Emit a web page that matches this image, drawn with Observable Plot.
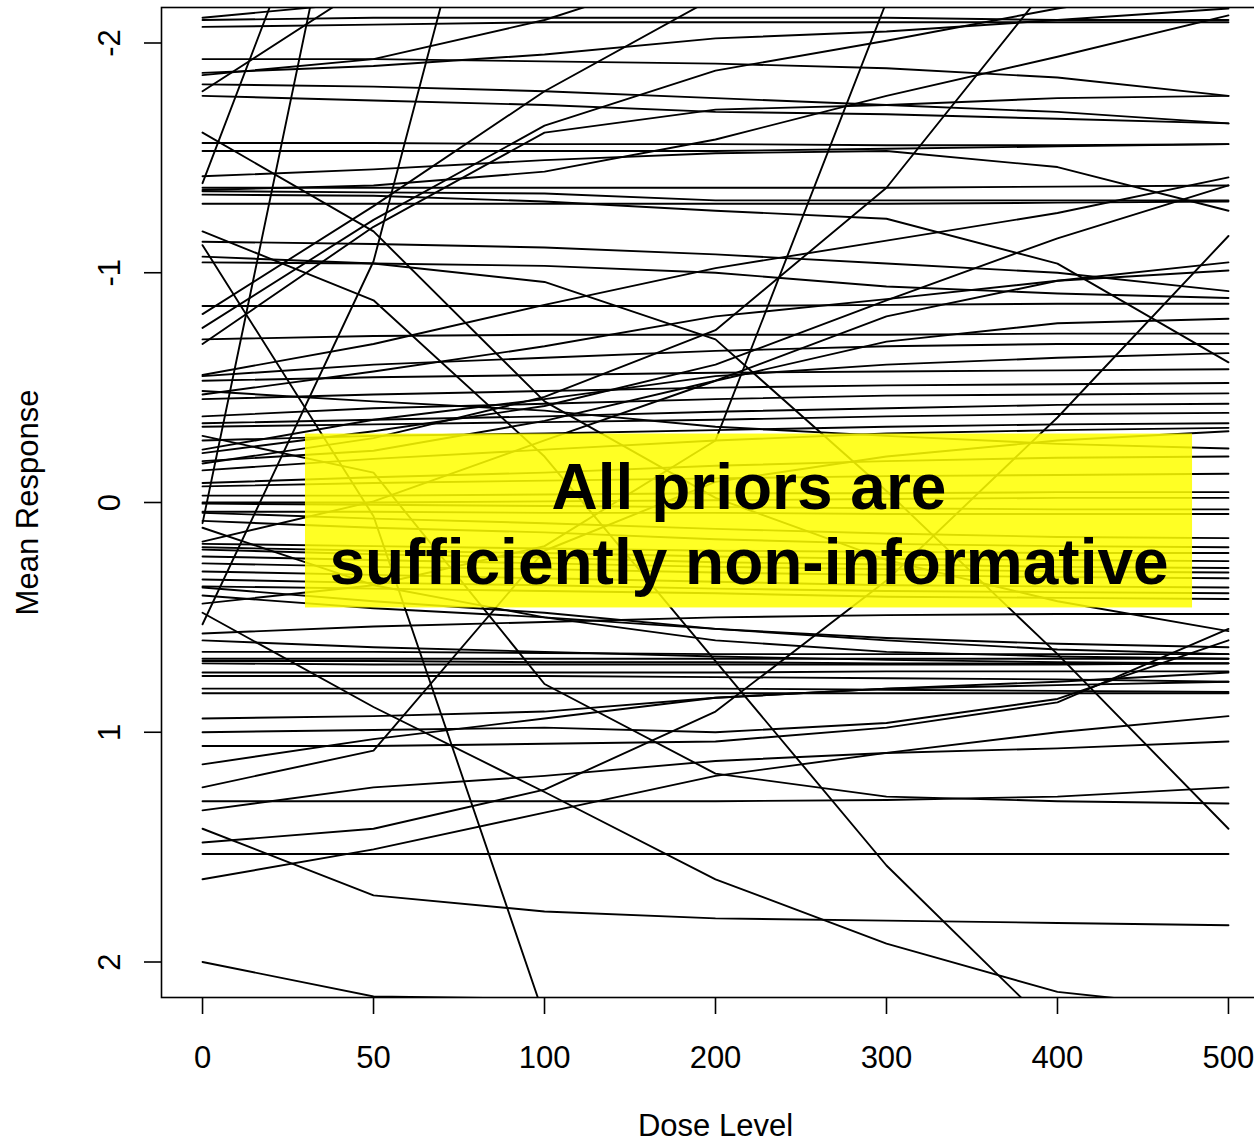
<!DOCTYPE html>
<html><head><meta charset="utf-8">
<script src="https://cdn.jsdelivr.net/npm/d3@7"></script>
<script src="https://cdn.jsdelivr.net/npm/@observablehq/plot@0.6"></script>
<style>html,body{margin:0;padding:0;background:#fff;overflow:hidden}svg{overflow:hidden}</style>
</head><body><div id="chart"></div>
<script>
const doses = [0, 50, 100, 200, 300, 400, 500];
const yTicks = [-2, -1, 0, 1, 2];

// curves that leave through the top of the panel
const topExitCurves = [
  [-2.11, -2.18, -2.23, -2.27, -2.29, -2.31, -2.31],
  [-1.86, -1.93, -2.10, -2.34, -2.40, -2.42, -2.44],
  [-1.79, -2.27, -2.44, -2.53, -2.55, -2.57, -2.57],
  [-1.87, -1.90, -1.95, -2.02, -2.05, -2.10, -2.15],
  [-0.76, -1.23, -1.64, -1.88, -2.01, -2.15, -2.27],
  [-0.82, -1.29, -1.79, -2.20, -2.36, -2.44, -2.49],
  [-1.36, -1.38, -1.44, -1.58, -1.77, -1.94, -2.12],
  [-1.39, -3.34, -3.60, -3.70, -3.75, -3.78, -3.80],
  [0.09, -3.48, -3.70, -3.80, -3.85, -3.87, -3.90],
  [0.53, -1.05, -3.87, -4.40, -4.50, -4.55, -4.60],
  [0.44, 0.36, 0.19, -0.27, -2.18, -3.49, -3.93],
  [-0.17, -0.28, -0.46, -0.75, -1.37, -2.30, -2.71]
];

// upper band
const upperCurves = [
  [-2.10, -2.11, -2.11, -2.11, -2.11, -2.10, -2.10],
  [-2.07, -2.08, -2.09, -2.09, -2.09, -2.09, -2.09],
  [-1.93, -1.93, -1.92, -1.91, -1.89, -1.85, -1.77],
  [-1.82, -1.81, -1.79, -1.76, -1.73, -1.70, -1.65],
  [-1.77, -1.75, -1.73, -1.70, -1.69, -1.67, -1.65],
  [-1.565, -1.565, -1.56, -1.56, -1.555, -1.555, -1.56],
  [-1.53, -1.53, -1.53, -1.53, -1.54, -1.55, -1.56],
  [-1.42, -1.45, -1.49, -1.52, -1.53, -1.46, -1.27],
  [-0.69, -1.20, -1.61, -1.71, -1.73, -1.76, -1.77],
  [-1.37, -1.37, -1.37, -1.37, -1.37, -1.375, -1.38],
  [-1.355, -1.35, -1.345, -1.315, -1.315, -1.315, -1.315],
  [-1.34, -1.335, -1.31, -1.27, -1.235, -1.04, -0.61],
  [-1.30, -1.30, -1.30, -1.30, -1.30, -1.305, -1.31],
  [-1.135, -1.125, -1.11, -1.08, -1.04, -1.00, -0.92],
  [-1.045, -1.04, -1.03, -1.00, -0.94, -0.91, -0.89],
  [-0.855, -0.855, -0.855, -0.855, -0.86, -0.865, -0.865],
  [-0.71, -0.725, -0.73, -0.73, -0.73, -0.735, -0.735],
  [-0.555, -0.69, -0.86, -1.02, -1.14, -1.26, -1.415],
  [-0.215, -0.31, -0.42, -0.60, -0.88, -1.15, -1.38],
  [-0.47, -0.57, -0.68, -0.81, -0.885, -0.965, -1.045],
  [-0.18, -0.225, -0.355, -0.53, -0.70, -0.78, -0.80],
  [0.17, -0.005, -0.27, -0.53, -0.81, -0.965, -1.01]
];

// curves falling steeply
const fallingCurves = [
  [-1.12, 0.06, 2.24, 2.60, 2.60, 2.60, 2.60],
  [-1.18, -0.88, -0.20, 0.69, 1.58, 2.31, 2.60],
  [-1.61, -1.18, -0.44, -0.02, 0.25, 0.43, 0.56],
  [-1.07, -1.04, -0.96, -0.71, -0.05, 0.66, 1.42],
  [-0.29, -0.13, 0.79, 1.18, 1.28, 1.30, 1.31],
  [0.48, 0.89, 1.26, 1.64, 1.92, 2.13, 2.21],
  [0.11, 0.36, 0.50, 0.60, 0.65, 0.67, 0.68],
  [2.00, 2.15, 2.16, 2.17, 2.18, 2.18, 2.19],
  [1.42, 1.71, 1.78, 1.81, 1.82, 1.83, 1.84]
];

// middle band
const middleCurves = [
  [-0.55, -0.60, -0.63, -0.66, -0.68, -0.69, -0.69],
  [-0.53, -0.545, -0.555, -0.565, -0.57, -0.575, -0.58],
  [-0.23, -0.36, -0.45, -0.55, -0.60, -0.63, -0.65],
  [-0.45, -0.47, -0.485, -0.50, -0.51, -0.515, -0.52],
  [-0.375, -0.41, -0.43, -0.45, -0.465, -0.47, -0.475],
  [-0.345, -0.36, -0.375, -0.395, -0.41, -0.425, -0.43],
  [-0.33, -0.34, -0.35, -0.36, -0.375, -0.385, -0.39],
  [-0.27, -0.29, -0.30, -0.315, -0.33, -0.34, -0.345],
  [-0.485, -0.44, -0.40, -0.33, -0.29, -0.255, -0.235],
  [-0.14, -0.19, -0.23, -0.27, -0.30, -0.315, -0.325],
  [-0.085, -0.11, -0.13, -0.16, -0.18, -0.195, -0.20],
  [-0.07, -0.085, -0.095, -0.105, -0.115, -0.12, -0.125],
  [-0.03, -0.03, -0.035, -0.04, -0.04, -0.045, -0.045],
  [0.0, 0.0, -0.005, -0.01, -0.015, -0.02, -0.02],
  [0.005, 0.01, 0.015, 0.02, 0.025, 0.03, 0.03],
  [0.04, 0.04, 0.045, 0.045, 0.05, 0.05, 0.05],
  [0.045, 0.07, 0.09, 0.115, 0.135, 0.15, 0.155],
  [0.08, 0.11, 0.13, 0.16, 0.18, 0.19, 0.195],
  [0.18, 0.19, 0.20, 0.21, 0.215, 0.22, 0.22],
  [0.195, 0.21, 0.22, 0.235, 0.245, 0.25, 0.255],
  [0.205, 0.225, 0.24, 0.26, 0.27, 0.28, 0.285],
  [0.235, 0.25, 0.265, 0.28, 0.29, 0.30, 0.305],
  [0.265, 0.28, 0.29, 0.305, 0.315, 0.325, 0.33],
  [0.30, 0.315, 0.33, 0.345, 0.36, 0.365, 0.37],
  [0.335, 0.35, 0.36, 0.375, 0.385, 0.39, 0.395],
  [0.365, 0.375, 0.385, 0.395, 0.41, 0.415, 0.42],
  [0.37, 0.43, 0.48, 0.55, 0.60, 0.64, 0.66],
  [0.405, 0.46, 0.50, 0.55, 0.59, 0.615, 0.63],
  [0.57, 0.54, 0.52, 0.50, 0.49, 0.485, 0.485],
  [0.60, 0.63, 0.65, 0.67, 0.685, 0.695, 0.70]
];

// lower band
const lowerCurves = [
  [1.64, 1.51, 1.35, 1.19, 1.09, 1.00, 0.93],
  [1.48, 1.42, 1.25, 0.91, 0.34, -0.37, -1.16],
  [1.24, 1.08, 0.21, -0.09, -0.20, -0.27, -0.31],
  [1.14, 1.03, 0.94, 0.85, 0.81, 0.795, 0.78],
  [1.34, 1.24, 1.19, 1.125, 1.09, 1.07, 1.04],
  [0.94, 0.93, 0.91, 0.85, 0.81, 0.78, 0.74],
  [1.06, 1.06, 1.05, 1.04, 0.98, 0.87, 0.55],
  [1.00, 0.99, 0.98, 1.00, 0.96, 0.855, 0.60],
  [1.30, 1.30, 1.30, 1.30, 1.295, 1.28, 1.24],
  [1.53, 1.53, 1.53, 1.53, 1.53, 1.53, 1.53],
  [0.65, 0.65, 0.655, 0.66, 0.66, 0.66, 0.66],
  [0.68, 0.68, 0.68, 0.68, 0.68, 0.68, 0.68],
  [0.69, 0.69, 0.695, 0.695, 0.70, 0.70, 0.70],
  [0.70, 0.705, 0.705, 0.705, 0.705, 0.705, 0.70],
  [0.74, 0.74, 0.74, 0.74, 0.735, 0.735, 0.735],
  [0.755, 0.755, 0.755, 0.76, 0.765, 0.77, 0.78],
  [0.81, 0.81, 0.81, 0.81, 0.815, 0.82, 0.825],
  [0.83, 0.83, 0.83, 0.83, 0.83, 0.83, 0.83]
];

const noteBox = {x1: 1.602, x2: 6.79, y1: -0.298, y2: 0.459};
const noteLines = [
  {x: 4.196, y: -0.061, text: "All priors are"},
  {x: 4.196, y: 0.265, text: "sufficiently non-informative"}
];

const curves = [...topExitCurves, ...upperCurves, ...fallingCurves, ...middleCurves, ...lowerCurves];
const rows = curves.flatMap((c, id) => c.map((v, i) => ({id, pos: i + 1, v})));

const font = "'Liberation Sans', Arial, Helvetica, sans-serif";
const chart = Plot.plot({
  width: 1254,
  height: 1147,
  marginLeft: 161,
  marginRight: -15,
  marginTop: 7,
  marginBottom: 150,
  style: {fontFamily: font, background: "white", color: "black"},
  x: {domain: [0.76, 7.24], label: null},
  y: {domain: [-2.1545, 2.1545], reverse: true, label: null},
  marks: [
    Plot.line(rows, {x: "pos", y: "v", z: "id", stroke: "black", strokeWidth: 1.9, clip: true}),
    Plot.rect([noteBox], {x1: "x1", x2: "x2", y1: "y1", y2: "y2", fill: "#ffff00", fillOpacity: 0.86}),
    Plot.text(noteLines, {x: "x", y: "y", text: "text", fontSize: 64, fontWeight: "bold", fill: "black"}),
    Plot.frame({stroke: "black", strokeWidth: 1.6}),
    Plot.axisX({ticks: [1, 2, 3, 4, 5, 6, 7], tickFormat: d => String(doses[d - 1]), tickSize: 17, tickPadding: 31, fontSize: 31, strokeWidth: 1.6, label: null}),
    Plot.axisY({ticks: yTicks, tickFormat: () => "", tickSize: 17, strokeWidth: 1.6, label: null}),
    Plot.text(yTicks, {y: d => d, frameAnchor: "left", dx: -51, text: d => String(d), rotate: -90, textAnchor: "middle", lineAnchor: "middle", fontSize: 31, fill: "black"}),
    Plot.text(["Dose Level"], {frameAnchor: "bottom", dy: 129, text: d => d, textAnchor: "middle", lineAnchor: "middle", fontSize: 31, fill: "black"}),
    Plot.text(["Mean Response"], {frameAnchor: "left", dx: -133, text: d => d, rotate: -90, textAnchor: "middle", lineAnchor: "middle", fontSize: 31, fill: "black"})
  ]
});
document.getElementById("chart").appendChild(chart);
</script>
</body></html>
